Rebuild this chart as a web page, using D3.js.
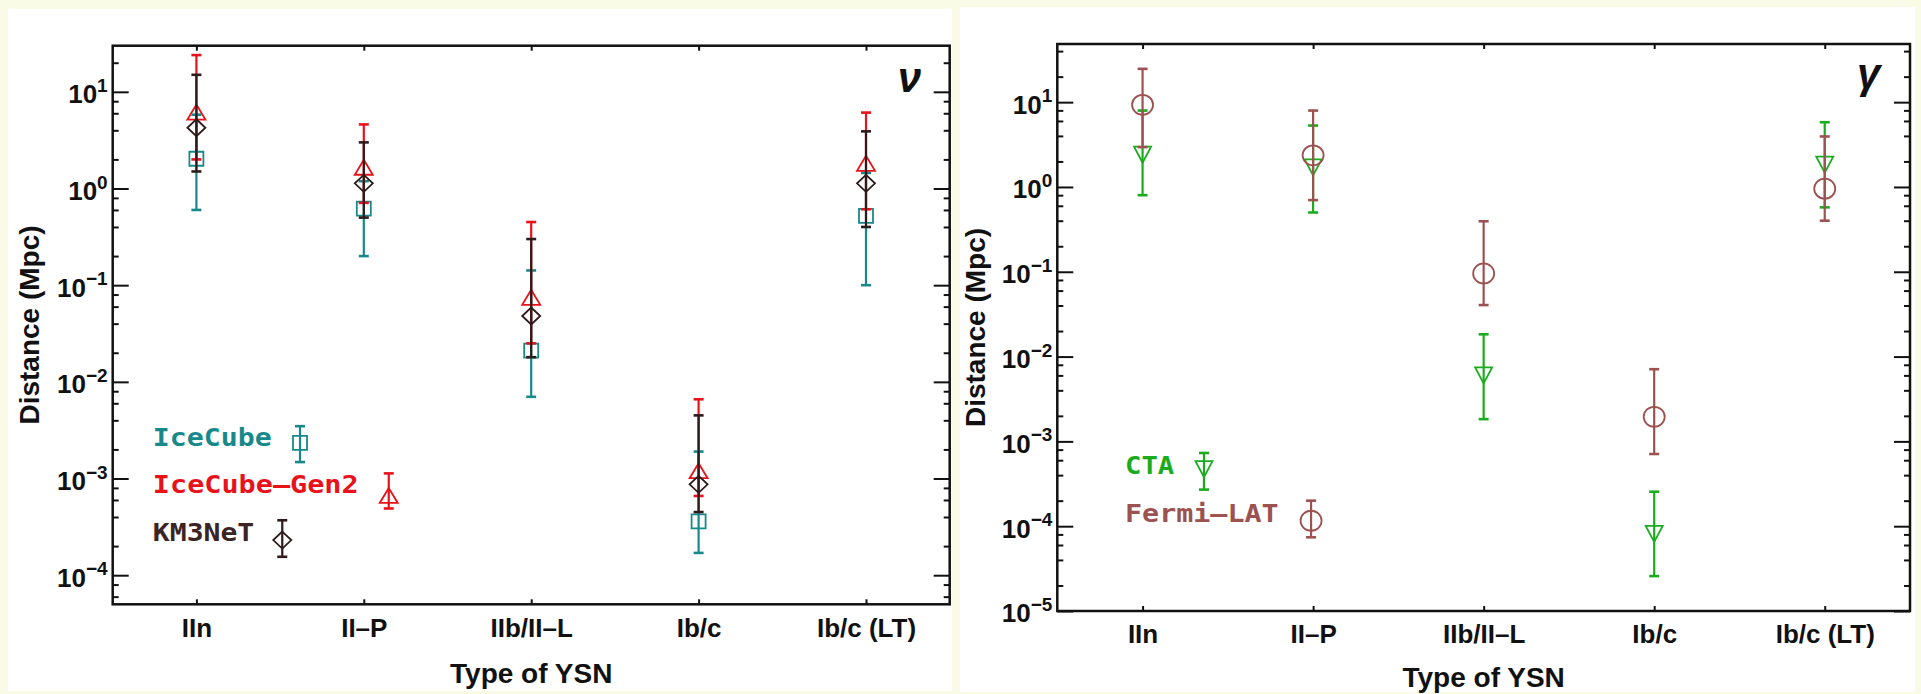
<!DOCTYPE html>
<html>
<head>
<meta charset="utf-8">
<script src="https://cdn.jsdelivr.net/npm/d3@7"></script>
<style>
  html, body { margin: 0; padding: 0; background: #f9fbe7; }
  svg { display: block; }
</style>
</head>
<body>
<svg id="chart"></svg>
<script>
// categories on the x axis (both panels)
const categories = ['IIn', 'II–P', 'IIb/II–L', 'Ib/c', 'Ib/c (LT)'];

// neutrino panel, distance in Mpc: central value, lower and upper end of the bar
const iceCubeVal = [2.03, 0.62, 0.021, 0.00036, 0.52];
const iceCubeLo  = [0.6, 0.2, 0.007, 0.00017, 0.1];
const iceCubeHi  = [5.8, 1.19, 0.142, 0.0019, 1.45];

const gen2Val = [6.1, 1.64, 0.074, 0.00119, 1.8];
const gen2Lo  = [2.0, 0.71, 0.025, 0.00066, 0.61];
const gen2Hi  = [24, 4.6, 0.45, 0.0066, 6.1];

const km3Val = [4.25, 1.13, 0.048, 0.00087, 1.13];
const km3Lo  = [1.5, 0.5, 0.018, 0.00045, 0.40];
const km3Hi  = [15, 3.0, 0.30, 0.0045, 3.9];

// gamma panel
const ctaVal = [2.4, 1.7, 0.006, 0.000081, 1.83];
const ctaLo  = [0.8, 0.5, 0.00183, 0.0000258, 0.575];
const ctaHi  = [7.96, 5.3, 0.0183, 0.000255, 5.8];

const fermiVal = [9.3, 2.36, 0.0955, 0.00195, 0.955];
const fermiLo  = [2.95, 0.70, 0.0405, 0.00071, 0.40];
const fermiHi  = [24.7, 7.96, 0.394, 0.0071, 3.94];

// y ranges of the two panels
const nuDomain = [5e-5, 30];
const gammaDomain = [1e-5, 48.5];

const width = 1921;
const height = 694;

const svg = d3.select('#chart')
  .attr('width', width)
  .attr('height', height);

// white panels on the pale background
svg.append('rect').attr('x', 8).attr('y', 9).attr('width', 944).attr('height', 682).attr('fill', '#fff');
svg.append('rect').attr('x', 960).attr('y', 7).attr('width', 955).attr('height', 685).attr('fill', '#fff');

const labelFont = '"Liberation Sans", Arial, Helvetica, sans-serif';
const monoFont = '"DejaVu Sans Mono", monospace';

// marker shapes, centred on (0,0)
const shapes = {
  square: 'M-7,-7H7V7H-7Z',
  triangle: 'M0,-8L9,7H-9Z',
  diamond: 'M0,-8.5L9,0L0,8.5L-9,0Z',
  down: 'M-8.5,-8H8.5L0,8Z',
  circle: 'M-10.5,0A10.5,10,0,1,0,10.5,0A10.5,10,0,1,0,-10.5,0Z'
};

function superLabel(sel) {
  sel.each(function (d) {
    const e = Math.round(Math.log10(d));
    const t = d3.select(this).text(null).attr('dy', '0.42em');
    t.append('tspan').text('10');
    t.append('tspan').attr('dy', '-0.6em').attr('font-size', 19)
      .text(e < 0 ? '−' + (-e) : String(e));
  });
}

function drawPanel(p) {
  const g = svg.append('g');

  const y = d3.scaleLog().domain(p.domain).range([p.y1, p.y0]);
  const x = d3.scalePoint().domain(categories).range([p.x0, p.x1]).padding(0.5);
  // fractional category positions for the legend
  const xi = d3.scaleLinear().domain([-0.5, categories.length - 0.5]).range([p.x0, p.x1]);

  const lo = Math.floor(Math.log10(p.domain[0]));
  const hi = Math.ceil(Math.log10(p.domain[1]));
  const majors = d3.range(lo, hi + 1).map(k => Math.pow(10, k))
    .filter(v => v >= p.domain[0] * 0.999 && v <= p.domain[1]);
  const minors = [];
  d3.range(lo, hi + 1).forEach(k => [2, 4, 6, 8].forEach(m => {
    const v = m * Math.pow(10, k);
    if (v > p.domain[0] && v < p.domain[1]) minors.push(v);
  }));

  // left axis, ticks inward
  const left = g.append('g').attr('transform', `translate(${p.x0},0)`)
    .call(d3.axisLeft(y).tickValues(majors).tickSize(-16).tickPadding(5));
  left.selectAll('.tick text').call(superLabel);
  g.append('g').attr('transform', `translate(${p.x0},0)`)
    .call(d3.axisLeft(y).tickValues(minors).tickSize(-6).tickFormat(''));

  // right axis, mirrored ticks
  g.append('g').attr('transform', `translate(${p.x1},0)`)
    .call(d3.axisRight(y).tickValues(majors).tickSize(-16).tickFormat(''));
  g.append('g').attr('transform', `translate(${p.x1},0)`)
    .call(d3.axisRight(y).tickValues(minors).tickSize(-6).tickFormat(''));

  // bottom and top axes
  g.append('g').attr('transform', `translate(0,${p.y1})`)
    .call(d3.axisBottom(x).tickSize(-5).tickPadding(14));
  g.append('g').attr('transform', `translate(0,${p.y0})`)
    .call(d3.axisTop(x).tickSize(-5).tickFormat(''));

  g.selectAll('.domain').remove();
  g.selectAll('.tick line').attr('stroke', '#111').attr('stroke-width', 2);
  g.selectAll('.tick text')
    .attr('font-family', labelFont)
    .attr('font-weight', 'bold')
    .attr('font-size', 26)
    .attr('fill', '#111');

  // frame
  g.append('rect')
    .attr('x', p.x0).attr('y', p.y0)
    .attr('width', p.x1 - p.x0).attr('height', p.y1 - p.y0)
    .attr('fill', 'none').attr('stroke', '#111').attr('stroke-width', 2.5);

  // axis titles
  g.append('text')
    .attr('transform', `translate(${p.yTitleX},${(p.y0 + p.y1) / 2}) rotate(-90)`)
    .attr('text-anchor', 'middle').attr('dy', '0.35em')
    .attr('font-family', labelFont).attr('font-weight', 'bold').attr('font-size', 28)
    .attr('fill', '#111')
    .text('Distance (Mpc)');
  g.append('text')
    .attr('x', (p.x0 + p.x1) / 2).attr('y', p.y1 + p.xTitleDy)
    .attr('text-anchor', 'middle')
    .attr('font-family', labelFont).attr('font-weight', 'bold').attr('font-size', 28)
    .attr('fill', '#111')
    .text('Type of YSN');

  // particle symbol in the corner
  g.append('text')
    .attr('x', p.x1 - p.tagDx).attr('y', p.y0 + p.tagDy)
    .attr('font-family', labelFont).attr('font-weight', 'bold').attr('font-style', 'italic')
    .attr('font-size', 42).attr('fill', '#111')
    .text(p.tag);

  function errorBar(sel, cx, vLo, vHi, color) {
    sel.append('line')
      .attr('x1', cx).attr('x2', cx).attr('y1', y(vLo)).attr('y2', y(vHi))
      .attr('stroke', color).attr('stroke-width', 2.2);
    [vLo, vHi].forEach(v => sel.append('line')
      .attr('x1', cx - 5).attr('x2', cx + 5).attr('y1', y(v)).attr('y2', y(v))
      .attr('stroke', color).attr('stroke-width', 2.6));
  }

  // data series
  p.series.forEach(s => {
    const sg = g.append('g');
    categories.forEach((c, i) => errorBar(sg, x(c), s.lo[i], s.hi[i], s.color));
    sg.selectAll('path')
      .data(s.val)
      .join('path')
      .attr('transform', (d, i) => `translate(${x(categories[i])},${y(d)})`)
      .attr('d', shapes[s.shape])
      .attr('fill', 'none')
      .attr('stroke', s.color)
      .attr('stroke-width', 1.8);
  });

  // legend
  p.series.forEach(s => {
    const L = s.legend;
    const lg = g.append('g');
    lg.append('text')
      .attr('x', xi(L.textAt)).attr('y', y(L.textY))
      .attr('font-family', monoFont).attr('font-weight', 'bold').attr('font-size', 24)
      .attr('fill', s.textColor)
      .attr('textLength', s.name.length * 17.4 - 3)
      .attr('lengthAdjust', 'spacingAndGlyphs')
      .text(s.name);
    errorBar(lg, xi(L.markAt), L.lo, L.hi, s.color);
    lg.append('path')
      .attr('transform', `translate(${xi(L.markAt)},${y(L.val)})`)
      .attr('d', shapes[s.shape])
      .attr('fill', 'none')
      .attr('stroke', s.color)
      .attr('stroke-width', 1.8);
  });
}

drawPanel({
  x0: 112.7, x1: 949.7, y0: 45.7, y1: 604.3,
  domain: nuDomain,
  yTitleX: 29, xTitleDy: 79,
  tag: 'ν', tagDx: 52, tagDy: 46,
  series: [
    { name: 'IceCube', shape: 'square', color: '#17898a', textColor: '#17898a',
      val: iceCubeVal, lo: iceCubeLo, hi: iceCubeHi,
      legend: { textAt: -0.26, textY: 0.00216, markAt: 0.619, val: 0.00234, lo: 0.00148, hi: 0.00348 } },
    { name: 'IceCube–Gen2', shape: 'triangle', color: '#e8121a', textColor: '#e8121a',
      val: gen2Val, lo: gen2Lo, hi: gen2Hi,
      legend: { textAt: -0.26, textY: 0.000701, markAt: 1.149, val: 0.00066, lo: 0.00049, hi: 0.00113 } },
    { name: 'KM3NeT', shape: 'diamond', color: '#2e1a1a', textColor: '#3a2424',
      val: km3Val, lo: km3Lo, hi: km3Hi,
      legend: { textAt: -0.26, textY: 0.000225, markAt: 0.513, val: 0.000231, lo: 0.000155, hi: 0.00037 } }
  ]
});

drawPanel({
  x0: 1057.3, x1: 1910, y0: 44, y1: 611,
  domain: gammaDomain,
  yTitleX: 975, xTitleDy: 76,
  tag: 'γ', tagDx: 53, tagDy: 44,
  series: [
    { name: 'CTA', shape: 'down', color: '#1aac1e', textColor: '#1aac1e',
      val: ctaVal, lo: ctaLo, hi: ctaHi,
      legend: { textAt: -0.103, textY: 0.000412, markAt: 0.36, val: 0.00047, lo: 0.00027, hi: 0.00073 } },
    { name: 'Fermi–LAT', shape: 'circle', color: '#9c5250', textColor: '#9c5250',
      val: fermiVal, lo: fermiLo, hi: fermiHi,
      legend: { textAt: -0.103, textY: 0.000113, markAt: 0.988, val: 0.000116, lo: 0.000074, hi: 0.0002 } }
  ]
});
</script>
</body>
</html>
